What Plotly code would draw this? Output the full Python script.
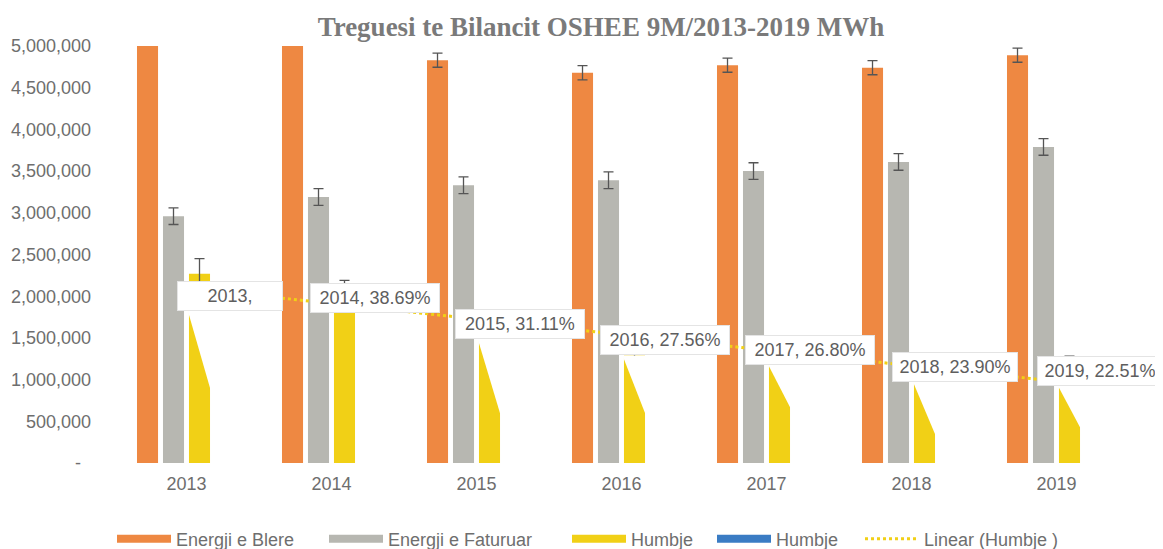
import numpy as np
import plotly.graph_objects as go

# ---------------- data ----------------
years = ["2013", "2014", "2015", "2016", "2017", "2018", "2019"]
energji_blere = [5230000, 5200000, 4830000, 4680000, 4770000, 4740000, 4890000]
energji_faturuar = [2960000, 3190000, 3330000, 3390000, 3500000, 3610000, 3790000]
humbje = [2270000, 2010000, 1500000, 1290000, 1270000, 1130000, 1100000]
humbje_pct = [43.41, 38.69, 31.11, 27.56, 26.80, 23.90, 22.51]
label_texts = ["2013,", "2014, 38.69%", "2015, 31.11%", "2016, 27.56%",
               "2017, 26.80%", "2018, 23.90%", "2019, 22.51%"]
err_blere = 85000
err_faturuar = 100000
err_humbje = 180000

y_ticks = [0, 500000, 1000000, 1500000, 2000000, 2500000, 3000000,
           3500000, 4000000, 4500000, 5000000]
y_ticktext = ["-\u00a0\u00a0", "500,000", "1,000,000", "1,500,000", "2,000,000",
              "2,500,000", "3,000,000", "3,500,000", "4,000,000", "4,500,000",
              "5,000,000"]

# ---------------- style ----------------
C_ORANGE = "#EE8842"
C_GREY = "#B7B7B1"
C_YELLOW = "#F1D016"
C_BLUE = "#3A7CC4"
C_TEXT = "#6E6E6E"
FONT = "Liberation Sans, Arial, sans-serif"

W, H = 1155, 541          # page body keeps an 8px margin
Y_MAX = 5000000
PLOT_H = 417
Y2_RANGE = [2.10, 94.56]
BARGAP = 0.283
BARGROUPGAP = 0.19
label_dx = 0.30
label_widths = [100, 124, 124, 124, 124, 120, 120]
label_yshift = [-19, 0, 8, 8, 2, -2, 0]
cut_fracs = [0.37, None, 0.36, 0.43, 0.50, 0.27, 0.36]
legend_x_px = [104, 316, 559, 704, 852]

x = np.arange(len(years))

fig = go.Figure()


def err(v):
    return dict(type="constant", value=v, color="#555555", thickness=1.3, width=5)


fig.add_trace(go.Bar(x=x, y=energji_blere, name="Energji e Blere", marker_color=C_ORANGE,
                     marker_line_width=0, error_y=err(err_blere), showlegend=False))
fig.add_trace(go.Bar(x=x, y=energji_faturuar, name="Energji e Faturuar", marker_color=C_GREY,
                     marker_line_width=0, error_y=err(err_faturuar), showlegend=False))
fig.add_trace(go.Bar(x=x, y=humbje, name="Humbje", marker_color=C_YELLOW,
                     marker_line_width=0, error_y=err(err_humbje), showlegend=False))
fig.add_trace(go.Bar(x=x, y=humbje_pct, name="Humbje", marker_color=C_BLUE,
                     marker_line_width=0, showlegend=False))

# linear trend of the loss percentage
coef = np.polyfit(x, humbje_pct, 1)
trend = np.polyval(coef, x)
fig.add_trace(go.Scatter(x=x, y=trend, yaxis="y2", mode="lines",
                         line=dict(color=C_YELLOW, width=3, dash="dot"),
                         showlegend=False, hoverinfo="skip"))

# legend entries (wide swatches), each in its own legend box
legend_items = [("Energji e Blere", C_ORANGE, "solid", 8),
                ("Energji e Faturuar", C_GREY, "solid", 8),
                ("Humbje", C_YELLOW, "solid", 8),
                ("Humbje", C_BLUE, "solid", 8),
                ("Linear (Humbje )", C_YELLOW, "dot", 3)]
legend_layouts = {}
for k, (nm, col, dash, w) in enumerate(legend_items):
    lname = "legend" if k == 0 else f"legend{k + 1}"
    fig.add_trace(go.Scatter(x=[None], y=[None], mode="lines", name=nm, legend=lname,
                             line=dict(color=col, width=w, dash=dash)))
    legend_layouts[lname] = dict(orientation="h", xref="container", yref="container",
                                 x=legend_x_px[k] / W, xanchor="left",
                                 y=1 - 531 / H, yanchor="middle",
                                 itemwidth=54, font=dict(family=FONT, size=18, color=C_TEXT),
                                 bgcolor="rgba(0,0,0,0)")

# data labels (callout boxes)
px_val = Y_MAX / PLOT_H
annotations = []
shapes = []
slot = (1 - BARGAP) / 4
half_w = slot * (1 - BARGROUPGAP) / 2
yellow_off = 0.5 * slot
for i, (txt, p, sh, cf, hv, lw) in enumerate(zip(label_texts, humbje_pct, label_yshift,
                                                 cut_fracs, humbje, label_widths)):
    annotations.append(dict(x=i + label_dx, y=p, xref="x", yref="y2", text=txt,
                            showarrow=False, yshift=sh, width=lw, height=24,
                            bgcolor="white", bordercolor="#E4E4E4", borderwidth=1,
                            borderpad=2, align="center",
                            font=dict(family=FONT, size=18, color="#5E5E5E")))
    if cf is not None:
        center_y1 = (p - Y2_RANGE[0]) / (Y2_RANGE[1] - Y2_RANGE[0]) * Y_MAX + sh * px_val
        bottom_y1 = center_y1 - 14 * px_val
        top = min(hv, bottom_y1)
        xl = i + yellow_off - half_w - 0.01
        xr = i + yellow_off + half_w + 0.01
        shapes.append(dict(type="path", xref="x", yref="y", layer="above",
                           path=f"M{xl},{top} L{xr},{top} L{xr},{cf * hv} Z",
                           fillcolor="white", line=dict(width=0)))

fig.update_layout(
    width=W, height=H,
    paper_bgcolor="white", plot_bgcolor="white",
    margin=dict(l=106, r=34, t=38, b=86),
    barmode="group", bargap=BARGAP, bargroupgap=BARGROUPGAP,
    title=dict(text="<b>Treguesi te Bilancit OSHEE 9M/2013-2019 MWh</b>",
               font=dict(family="Liberation Serif, Times New Roman, serif", size=27, color="#7A7A7A"),
               x=593 / W, xanchor="center", xref="container",
               y=1 - 19 / H, yanchor="middle", yref="container"),
    xaxis=dict(range=[-0.5, 6.5], tickvals=list(x), ticktext=years, showgrid=False,
               zeroline=False, showline=False, ticks="", ticklabelstandoff=8,
               automargin=False,
               tickfont=dict(family=FONT, size=18, color=C_TEXT)),
    yaxis=dict(range=[0, Y_MAX], tickvals=y_ticks, ticktext=y_ticktext, showgrid=False,
               zeroline=False, showline=False, ticks="", ticklabelstandoff=22,
               automargin=False,
               tickfont=dict(family=FONT, size=18, color=C_TEXT)),
    yaxis2=dict(range=Y2_RANGE, overlaying="y", visible=False),
    annotations=annotations,
    shapes=shapes,
    **legend_layouts,
)

fig.write_html("out.html")
